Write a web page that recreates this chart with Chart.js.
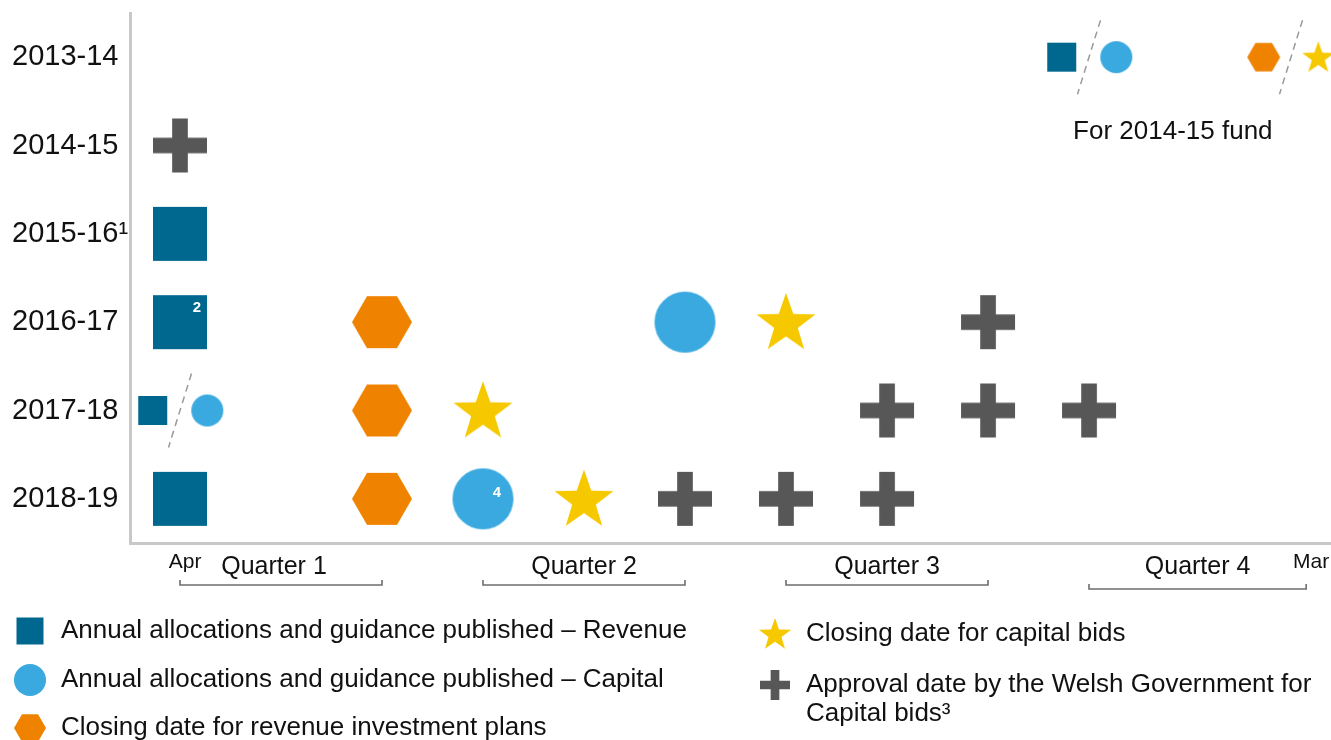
<!DOCTYPE html>
<html>
<head>
<meta charset="utf-8">
<script src="https://cdn.jsdelivr.net/npm/chart.js@4.4.1/dist/chart.umd.min.js"></script>
<style>
  html, body { margin: 0; padding: 0; background: #fff; }
  #wrap { width: 1331px; height: 740px; }
</style>
</head>
<body>
<div id="wrap"><canvas id="timeline" width="1331" height="740"></canvas></div>
<script>
// financial years, top to bottom
const years = ['2013-14', '2014-15', '2015-16¹', '2016-17', '2017-18', '2018-19']

// month: 0 = April ... 11 = March. slot marks two events sharing one date
const revenueAllocation = [
  { month: 9, year: '2013-14', slot: 'left' },
  { month: 0, year: '2015-16¹' },
  { month: 0, year: '2016-17', note: '2' },
  { month: 0, year: '2017-18', slot: 'left' },
  { month: 0, year: '2018-19' }
]
const capitalAllocation = [
  { month: 9, year: '2013-14', slot: 'right' },
  { month: 5, year: '2016-17' },
  { month: 0, year: '2017-18', slot: 'right' },
  { month: 3, year: '2018-19', note: '4' }
]
const revenueClosing = [
  { month: 11, year: '2013-14', slot: 'left' },
  { month: 2, year: '2016-17' },
  { month: 2, year: '2017-18' },
  { month: 2, year: '2018-19' }
]
const capitalClosing = [
  { month: 11, year: '2013-14', slot: 'right' },
  { month: 6, year: '2016-17' },
  { month: 3, year: '2017-18' },
  { month: 4, year: '2018-19' }
]
const capitalApproval = [
  { month: 0, year: '2014-15' },
  { month: 8, year: '2016-17' },
  { month: 7, year: '2017-18' },
  { month: 8, year: '2017-18' },
  { month: 9, year: '2017-18' },
  { month: 5, year: '2018-19' },
  { month: 6, year: '2018-19' },
  { month: 7, year: '2018-19' }
]

const quarterLabels = ['Quarter 1', 'Quarter 2', 'Quarter 3', 'Quarter 4']
const quarterStart = [0, 3, 6, 9]
const quarterEnd = [2, 5, 8, 11.15]
const edgeMonths = ['Apr', 'Mar']
const edgeMonthPos = [0.05, 11.2]

const seriesNames = [
  'Annual allocations and guidance published – Revenue',
  'Annual allocations and guidance published – Capital',
  'Closing date for revenue investment plans',
  'Closing date for capital bids',
  'Approval date by the Welsh Government for\nCapital bids³'
]
const fundNote = 'For 2014-15 fund'

const FONT = "'Liberation Sans', Arial, sans-serif"
const colors = {
  square: '#00678e',
  circle: '#39a9e0',
  hexagon: '#ef8300',
  star: '#f6c800',
  cross: '#575757'
}

// marker images, cached by shape+size (1px margin so edges stay smooth)
const markerCache = {}
function marker(shape, size) {
  const key = shape + size
  if (markerCache[key]) return markerCache[key]
  const c = document.createElement('canvas')
  c.width = size + 2
  c.height = size + 2
  const g = c.getContext('2d')
  const s = size / 2
  g.translate(1, 1)
  g.fillStyle = colors[shape]
  g.beginPath()
  if (shape === 'square') {
    g.rect(0, 0, size, size)
  } else if (shape === 'circle') {
    g.arc(s, s, s, 0, Math.PI * 2)
  } else if (shape === 'hexagon') {
    for (let i = 0; i < 6; i++) {
      const a = i * Math.PI / 3
      g.lineTo(s + s * Math.cos(a), s + s * Math.sin(a))
    }
  } else if (shape === 'star') {
    const cy = s + s * 0.06
    for (let i = 0; i < 10; i++) {
      const r = i % 2 ? s * 0.4 : s
      const a = -Math.PI / 2 + i * Math.PI / 5
      g.lineTo(s + r * Math.cos(a), cy + r * Math.sin(a))
    }
  } else if (shape === 'cross') {
    const t = size * 0.29
    g.rect(s - t / 2, 0, t, size)
    g.rect(0, s - t / 2, size, t)
  }
  g.closePath()
  g.fill()
  markerCache[key] = c
  return c
}

const bigSize = { square: 54, circle: 61, hexagon: 60, star: 62, cross: 54 }
const smallSize = { square: 29, circle: 32, hexagon: 33, star: 34, cross: 30 }
const legendSize = { square: 27, circle: 32, hexagon: 32, star: 34, cross: 30 }
const shapes = ['square', 'circle', 'hexagon', 'star', 'cross']
const slotShift = { left: -0.27, right: 0.27 }

function toPoints(list) {
  return list.map(d => ({
    x: d.month + (d.slot ? slotShift[d.slot] : 0),
    y: d.year,
    slot: d.slot,
    note: d.note,
    month: d.month
  }))
}

const allSeries = [revenueAllocation, capitalAllocation, revenueClosing, capitalClosing, capitalApproval]

const datasets = allSeries.map((list, i) => ({
  label: seriesNames[i],
  data: toPoints(list),
  pointStyle: ctx => {
    const raw = ctx.raw || {}
    return marker(shapes[i], raw.slot ? smallSize[shapes[i]] : bigSize[shapes[i]])
  },
  pointRadius: 10,
  pointHoverRadius: 10,
  clip: false
}))

const extras = {
  id: 'extras',
  afterDatasetsDraw(chart) {
    const { ctx } = chart
    const xs = chart.scales.x
    const ys = chart.scales.y
    ctx.save()

    // dashed slashes between shared-date markers
    ctx.strokeStyle = '#9a9a9a'
    ctx.lineWidth = 1.5
    ctx.setLineDash([7, 5])
    const seen = {}
    allSeries.forEach(list => list.forEach(d => {
      if (!d.slot) return
      const k = d.month + d.year
      if (seen[k]) return
      seen[k] = true
      const cx = xs.getPixelForValue(d.month)
      const cy = ys.getPixelForValue(years.indexOf(d.year))
      ctx.beginPath()
      ctx.moveTo(cx + 11.5, cy - 37)
      ctx.lineTo(cx - 11.5, cy + 37)
      ctx.stroke()
    }))
    ctx.setLineDash([])

    // footnote numbers inside markers
    ctx.fillStyle = '#fff'
    ctx.font = 'bold 15px ' + FONT
    ctx.textAlign = 'center'
    ctx.textBaseline = 'middle'
    const noteOffset = [[17, -14], [14, -6]]
    chart.data.datasets.forEach((ds, i) => {
      ds.data.forEach(p => {
        if (!p.note) return
        const off = noteOffset[i] || [0, 0]
        ctx.fillText(p.note, xs.getPixelForValue(p.x) + off[0], ys.getPixelForValue(years.indexOf(p.y)) + off[1])
      })
    })

    // caption under the 2013-14 row
    ctx.fillStyle = '#111'
    ctx.font = '26px ' + FONT
    ctx.fillText(fundNote, xs.getPixelForValue(9.83), ys.getPixelForValue(0) + 75)

    // quarter brackets
    ctx.strokeStyle = '#6e6e6e'
    ctx.lineWidth = 1.6
    quarterLabels.forEach((q, i) => {
      const by = i === 3 ? 589 : 585
      const a = xs.getPixelForValue(quarterStart[i])
      const b = xs.getPixelForValue(quarterEnd[i])
      ctx.beginPath()
      ctx.moveTo(a, by - 5)
      ctx.lineTo(a, by)
      ctx.lineTo(b, by)
      ctx.lineTo(b, by - 5)
      ctx.stroke()
      ctx.fillStyle = '#111'
      ctx.font = '25px ' + FONT
      ctx.fillText(q, (a + b) / 2 - (i === 0 ? 7 : 0), 567)
    })
    ctx.font = '21px ' + FONT
    edgeMonths.forEach((m, i) => {
      ctx.fillText(m, xs.getPixelForValue(edgeMonthPos[i]), 562)
    })

    // legend
    const legendSpots = [[30, 631], [30, 680], [30, 728], [775, 634], [775, 685]]
    ctx.font = '26px ' + FONT
    ctx.textAlign = 'left'
    seriesNames.forEach((name, i) => {
      const [mx, my] = legendSpots[i]
      const img = marker(shapes[i], legendSize[shapes[i]])
      ctx.drawImage(img, mx - img.width / 2, my - img.height / 2)
      name.split('\n').forEach((line, j) => {
        ctx.fillText(line, mx + 31, my + j * 29)
      })
    })
    ctx.restore()
  }
}

new Chart(document.getElementById('timeline'), {
  type: 'scatter',
  data: { datasets },
  options: {
    responsive: false,
    animation: false,
    events: [],
    layout: { autoPadding: false, padding: { top: 13, left: 12, right: 0, bottom: 0 } },
    plugins: {
      legend: { display: false },
      tooltip: { enabled: false }
    },
    scales: {
      x: {
        type: 'linear',
        min: -0.495,
        max: 11.396,
        grid: { display: false },
        border: { color: '#c8c8c8', width: 3 },
        ticks: { display: false },
        afterFit: s => {
          s.height = 197
          s.paddingLeft = 0
          s.paddingRight = 0
        }
      },
      y: {
        type: 'category',
        labels: years,
        offset: true,
        grid: { display: false },
        border: { color: '#c8c8c8', width: 3 },
        ticks: {
          crossAlign: 'far',
          color: '#111',
          font: { family: FONT, size: 29 }
        },
        afterFit: s => {
          s.width = 118
          s.paddingTop = 0
          s.paddingBottom = 0
        }
      }
    }
  },
  plugins: [extras]
})
</script>
</body>
</html>
